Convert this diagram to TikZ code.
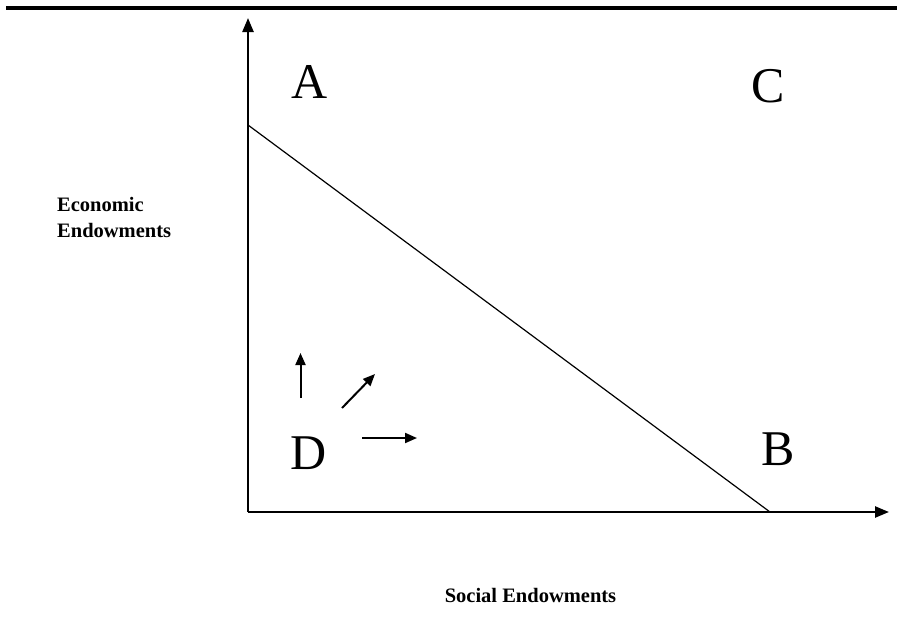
\documentclass[tikz,border=0pt]{standalone}
\usepackage{fontspec}
\setmainfont{Liberation Serif}
\usetikzlibrary{arrows.meta}
\tikzstyle{axis} = [
    line width=2.4pt,
    -{Triangle[length=14pt,width=11pt]}
]
\tikzstyle{move} = [
    line width=2pt,
    -{Triangle[length=12pt,width=10pt]}
]
\tikzstyle{region} = [
    inner sep=0pt,
    anchor=base,
    font=\fontsize{50}{50}\selectfont
]
\tikzstyle{axislabel} = [
    inner sep=0pt,
    align=left,
    font=\bfseries\fontsize{20.5}{26}\selectfont
]

\begin{document}
\begin{tikzpicture}[x=1pt, y=-1pt]
\useasboundingbox (0,0) rectangle (897,624);

\draw [line width=3.5pt] (6,8) -- (897,8);

% axes
\coordinate (origin) at (248,512);
\coordinate (ytop) at (248,18);
\coordinate (xend) at (889,512);
\draw [axis] (origin) -- (ytop);
\draw [axis] (origin) -- (xend);

% frontier
\coordinate (front1) at (248,125);
\coordinate (front2) at (770,512);
\draw [line width=1.2pt] (front1) -- (front2);

\node (A) [region] at (309.5,98) {A};
\node (C) [region] at (768,102) {C};
\node (B) [region] at (778,465) {B};
\node (D) [region] at (309,469) {D};

% moves out of D
\coordinate (up0) at (300.5,398);
\coordinate (up1) at (300.5,353);
\coordinate (diag0) at (342,408);
\coordinate (diag1) at (375,374);
\coordinate (right0) at (362,438);
\coordinate (right1) at (417,438);
\draw [move] (up0) -- (up1);
\draw [move] (diag0) -- (diag1);
\draw [move] (right0) -- (right1);

\node (ylabel) [axislabel, anchor=north west] at (57,197.5)
{Economic\\Endowments};
\node (xlabel) [axislabel, anchor=base] at (530.5,602) {Social Endowments};

\end{tikzpicture}
\end{document}
